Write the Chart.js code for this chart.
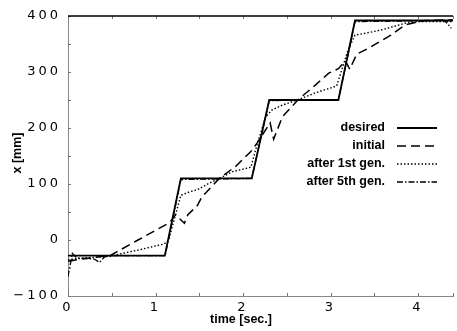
<!DOCTYPE html>
<html>
<head>
  <meta name="viewport" content="width=device-width, initial-scale=1.0">
  <title>Trajectory learning</title>
  <script src="https://cdn.jsdelivr.net/npm/chart.js"></script>
  <style>
    body { margin: 0; padding: 0; background: #fff; }
    #wrap { width: 457px; height: 331px; }
  </style>
</head>
<body>
  <div id="wrap"><canvas id="myChart"></canvas></div>

  <script>
    // data (time in sec, position in mm)
    const desiredT = [0, 1.106, 1.29, 2.10, 2.30, 3.09, 3.28, 4.40];
    const desiredX = [-28, -28, 110, 110, 250, 250, 392, 392];

    const initialT = [0, 0.2, 0.48, 0.8, 1.16, 1.23, 1.33, 1.37, 1.48, 1.53, 1.73, 1.92, 2.09, 2.16, 2.31, 2.35, 2.45, 2.64, 2.83, 2.98, 3.09, 3.17, 3.22, 3.30, 3.43, 3.69, 3.85, 4.08, 4.40];
    const initialX = [-38, -33, -28, 0, 31, 45, 30, 45, 62, 77, 110, 132, 158, 173, 209, 180, 220, 252, 277, 298, 306, 320, 305, 332, 342, 366, 384, 392, 393];

    const gen1T = [0, 0.2, 0.48, 0.8, 1.10, 1.15, 1.29, 1.39, 1.48, 1.61, 1.73, 1.88, 2.09, 2.16, 2.26, 2.33, 2.45, 2.64, 2.83, 3.07, 3.20, 3.28, 3.39, 3.58, 3.85, 4.00, 4.40];
    const gen1X = [-35, -32, -29, -18, -7, 0, 80, 86, 90, 101, 110, 122, 130, 170, 220, 232, 241, 251, 263, 275, 339, 366, 369, 375, 387, 390, 390];

    const gen5T = [0, 0.05, 0.1, 0.2, 0.3, 0.36, 0.42, 0.5, 1.11, 1.29, 2.10, 2.30, 3.09, 3.28, 4.30, 4.34, 4.38];
    const gen5X = [-65, -24, -32, -33, -34, -40, -30, -28, -28, 108, 110, 249, 250, 390, 392, 386, 378];

    const seriesNames = ['desired', 'initial', 'after 1st gen.', 'after 5th gen.'];
    const xTitle = 'time [sec.]';
    const yTitle = 'x [mm]';

    function pts(ts, xs) {
      return ts.map((t, i) => ({ x: t, y: xs[i] }));
    }

    // spaced-out tick digits like the original plot
    const tickSpacing = {
      id: 'tickSpacing',
      beforeDraw(chart) { chart.ctx.letterSpacing = '3px'; },
      beforeDatasetsDraw(chart) { chart.ctx.letterSpacing = '0px'; }
    };

    // legend, axis titles, inward tick marks and the top frame line
    const extras = {
      id: 'extras',
      afterDraw(chart) {
        const ctx = chart.ctx;
        const a = chart.chartArea;
        const sx = chart.scales.x, sy = chart.scales.y;
        ctx.save();
        ctx.letterSpacing = '0px';

        // inward tick marks
        ctx.strokeStyle = '#777';
        ctx.lineWidth = 1;
        ctx.beginPath();
        sx.ticks.forEach(t => {
          const px = Math.round(sx.getPixelForValue(t.value)) + 0.5;
          ctx.moveTo(px, a.bottom);
          ctx.lineTo(px, a.bottom - 3);
          ctx.moveTo(px, a.top);
          ctx.lineTo(px, a.top + 3);
        });
        sy.ticks.forEach(t => {
          const py = Math.round(sy.getPixelForValue(t.value)) + 0.5;
          ctx.moveTo(a.left, py);
          ctx.lineTo(a.left + 3, py);
        });
        ctx.stroke();

        // legend
        const textRight = 385, lineL = 397, lineR = 437;
        let y = 128;
        ctx.font = 'bold 12.5px "Liberation Sans"';
        ctx.textAlign = 'right';
        ctx.textBaseline = 'middle';
        chart.data.datasets.forEach(ds => {
          ctx.fillStyle = '#000';
          ctx.fillText(ds.label, textRight, y);
          ctx.strokeStyle = ds.borderColor;
          ctx.lineWidth = ds.borderWidth;
          ctx.setLineDash(ds.borderDash || []);
          ctx.beginPath();
          ctx.moveTo(lineL, y);
          ctx.lineTo(lineR, y);
          ctx.stroke();
          y += 18;
        });

        // axis titles
        ctx.setLineDash([]);
        ctx.textAlign = 'center';
        ctx.fillText(xTitle, 241, 320);
        ctx.save();
        ctx.translate(18, 153);
        ctx.rotate(-Math.PI / 2);
        ctx.fillText(yTitle, 0, 0);
        ctx.restore();

        // top frame line
        ctx.strokeStyle = '#000';
        ctx.lineWidth = 1.5;
        ctx.beginPath();
        ctx.moveTo(a.left, a.top);
        ctx.lineTo(a.right, a.top);
        ctx.stroke();
        ctx.restore();
      }
    };

    const ctx = document.getElementById('myChart').getContext('2d');
    const chart = new Chart(ctx, {
      type: 'line',
      data: {
        datasets: [{
          label: seriesNames[0],
          data: pts(desiredT, desiredX),
          borderColor: '#000',
          borderWidth: 1.8
        }, {
          label: seriesNames[1],
          data: pts(initialT, initialX),
          borderColor: '#000',
          borderWidth: 1.5,
          borderDash: [9, 5]
        }, {
          label: seriesNames[2],
          data: pts(gen1T, gen1X),
          borderColor: '#000',
          borderWidth: 1.4,
          borderDash: [1.5, 2]
        }, {
          label: seriesNames[3],
          data: pts(gen5T, gen5X),
          borderColor: '#000',
          borderWidth: 1.3,
          borderDash: [6, 2, 1.5, 2]
        }]
      },
      options: {
        responsive: true,
        maintainAspectRatio: false,
        animation: false,
        elements: { point: { radius: 0 }, line: { tension: 0 } },
        layout: { padding: { top: 16, right: 2, left: 0, bottom: 0 } },
        plugins: { legend: { display: false }, tooltip: { enabled: false } },
        scales: {
          x: {
            type: 'linear',
            min: 0,
            max: 4.4,
            afterFit(s) { s.height = 35; },
            border: { display: true, color: '#888', dash: [1, 2], width: 1 },
            grid: { drawOnChartArea: false, drawTicks: false },
            ticks: {
              stepSize: 0.5,
              padding: 4,
              maxRotation: 0,
              autoSkip: false,
              color: '#000',
              font: { family: 'DejaVu Sans', size: 13 },
              callback: v => Number.isInteger(v) ? String(v) : ''
            }
          },
          y: {
            min: -100,
            max: 400,
            afterFit(s) { s.width = 68; },
            border: { display: true, color: '#888', dash: [1, 2], width: 1 },
            grid: { drawOnChartArea: false, drawTicks: false },
            ticks: {
              stepSize: 50,
              padding: 7,
              autoSkip: false,
              color: '#000',
              font: { family: 'DejaVu Sans', size: 13 },
              callback: v => v % 100 === 0 ? String(v).replace('-', '\u2212') : ''
            }
          }
        }
      },
      plugins: [tickSpacing, extras]
    });
  </script>
</body>
</html>
